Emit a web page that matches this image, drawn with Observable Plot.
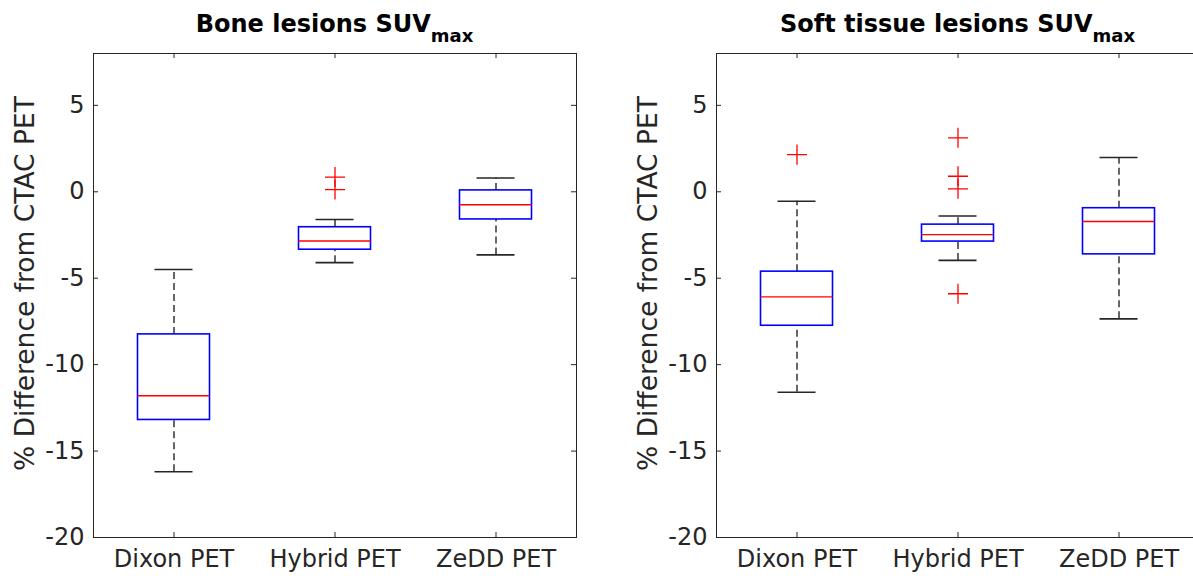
<!DOCTYPE html>
<html>
<head>
<meta charset="utf-8">
<script src="https://cdn.jsdelivr.net/npm/d3@7"></script>
<script src="https://cdn.jsdelivr.net/npm/@observablehq/plot@0.6"></script>
<style>
  html, body { margin: 0; padding: 0; background: #fff; overflow: hidden; }
  #wrap { position: relative; width: 1193px; height: 576px; overflow: hidden; display: flex; }
  .panel { flex: none; }
  .title {
    box-sizing: border-box; height: 40px; padding-top: 10px; line-height: 28px;
    font-family: "DejaVu Sans", sans-serif; font-weight: bold; font-size: 24px;
    color: #000; text-align: center; white-space: nowrap;
  }
  .title span { font-size: 18px; vertical-align: -10px; }
  svg { display: block; }
</style>
</head>
<body>
<div id="wrap"></div>
<script>
// ---- data ----
const categories = ["Dixon PET", "Hybrid PET", "ZeDD PET"];
const yTicks = [-20, -15, -10, -5, 0, 5];
const yLabel = "% Difference from CTAC PET";

// Bone lesions SUVmax
const boneLowerWhisker = [-16.2, -4.1, -3.65];
const boneQ1 = [-13.2, -3.35, -1.6];
const boneMedian = [-11.8, -2.85, -0.75];
const boneQ3 = [-8.25, -2.05, 0.08];
const boneUpperWhisker = [-4.5, -1.6, 0.8];
const boneOutlierCats = ["Hybrid PET", "Hybrid PET"];
const boneOutlierValues = [0.85, 0.13];

// Soft tissue lesions SUVmax
const softLowerWhisker = [-11.6, -3.97, -7.35];
const softQ1 = [-7.75, -2.88, -3.62];
const softMedian = [-6.08, -2.48, -1.72];
const softQ3 = [-4.62, -1.9, -0.95];
const softUpperWhisker = [-0.55, -1.4, 1.98];
const softOutlierCats = ["Dixon PET", "Hybrid PET", "Hybrid PET", "Hybrid PET", "Hybrid PET"];
const softOutlierValues = [2.15, 3.12, 0.9, 0.17, -5.9];

function table(lo, q1, med, q3, hi) {
  return categories.map((c, i) => ({cat: c, lo: lo[i], q1: q1[i], med: med[i], q3: q3[i], hi: hi[i]}));
}
function outTable(cats, vals) {
  return cats.map((c, i) => ({cat: c, v: vals[i]}));
}

const ink = "#262626";

function panel({title, data, outliers, width, marginLeft, marginRight}) {
  const marginTop = 13, marginBottom = 39, height = 536;
  const plotW = width - marginLeft - marginRight;
  const plotH = height - marginTop - marginBottom;
  const boxInset = 44.5, capInset = 61.5, tick = 5;
  const div = document.createElement("div");
  div.className = "panel";
  div.style.width = width + "px";
  const t = document.createElement("div");
  t.className = "title";
  t.style.paddingLeft = marginLeft + "px";
  t.style.paddingRight = marginRight + "px";
  t.innerHTML = title + "<span>max</span>";
  div.appendChild(t);
  const chart = Plot.plot({
    width, height, marginLeft, marginRight, marginTop, marginBottom,
    style: {fontFamily: "DejaVu Sans", fontSize: "24px", color: ink, background: "white", overflow: "visible"},
    x: {type: "band", domain: categories, padding: 0, align: 0.5},
    y: {domain: [-20, 8]},
    marks: [
      Plot.axisY(yTicks, {tickSize: 0, tickPadding: 9, fontSize: 24, label: null, tickFormat: d => String(d)}),
      Plot.text([yLabel], {frameAnchor: "left", rotate: -90, textAnchor: "middle", lineAnchor: "top", dx: -78, dy: -12, fontSize: 26.5, fill: ink}),
      Plot.axisX({tickSize: 0, tickPadding: 12, fontSize: 24, label: null}),
      Plot.ruleY(yTicks, {y: d => d, insetRight: plotW - tick, stroke: ink}),
      Plot.ruleY(yTicks, {y: d => d, insetLeft: plotW - tick, stroke: ink}),
      Plot.ruleX(categories, {x: d => d, insetTop: plotH - tick, stroke: ink}),
      Plot.ruleX(categories, {x: d => d, insetBottom: plotH - tick, stroke: ink}),
      Plot.ruleX(data, {x: "cat", y1: "q3", y2: "hi", stroke: ink, strokeWidth: 1.4, strokeDasharray: "7,4"}),
      Plot.ruleX(data, {x: "cat", y1: "lo", y2: "q1", stroke: ink, strokeWidth: 1.4, strokeDasharray: "7,4"}),
      Plot.tickY(data, {x: "cat", y: "hi", stroke: ink, strokeWidth: 1.6, insetLeft: capInset, insetRight: capInset}),
      Plot.tickY(data, {x: "cat", y: "lo", stroke: ink, strokeWidth: 1.6, insetLeft: capInset, insetRight: capInset}),
      Plot.barY(data, {x: "cat", y1: "q1", y2: "q3", fill: "none", stroke: "#0000ff", strokeWidth: 1.6, insetLeft: boxInset, insetRight: boxInset}),
      Plot.tickY(data, {x: "cat", y: "med", stroke: "#ff0000", strokeWidth: 1.4, insetLeft: boxInset, insetRight: boxInset}),
      Plot.dot(outliers, {x: "cat", y: "v", symbol: "plus", r: 6.5, stroke: "#ff0000", strokeWidth: 1.3}),
      Plot.frame({stroke: ink, strokeWidth: 1})
    ]
  });
  div.appendChild(chart);
  return div;
}

const wrap = document.getElementById("wrap");
wrap.appendChild(panel({
  title: "Bone lesions SUV",
  data: table(boneLowerWhisker, boneQ1, boneMedian, boneQ3, boneUpperWhisker),
  outliers: outTable(boneOutlierCats, boneOutlierValues),
  width: 600, marginLeft: 93, marginRight: 24
}));
wrap.appendChild(panel({
  title: "Soft tissue lesions SUV",
  data: table(softLowerWhisker, softQ1, softMedian, softQ3, softUpperWhisker),
  outliers: outTable(softOutlierCats, softOutlierValues),
  width: 599, marginLeft: 116, marginRight: 0
}));
</script>
</body>
</html>
